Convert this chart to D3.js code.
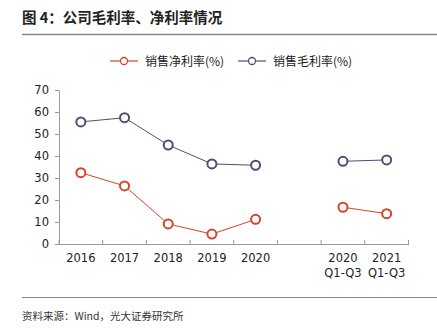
<!DOCTYPE html>
<html>
<head>
<meta charset="utf-8">
<title>公司毛利率、净利率情况</title>
<style>
  body { margin: 0; background: #fff; }
  text { font-family: "Noto Sans CJK SC", "DejaVu Sans", sans-serif; }
</style>
</head>
<body>
<script src="https://d3js.org/d3.v7.min.js"></script>
<script>
var categories = ["2016", "2017", "2018", "2019", "2020", "", "2020\nQ1-Q3", "2021\nQ1-Q3"];
var netMargin = [32.4, 26.4, 9.1, 4.5, 11.2, null, 16.7, 13.8];
var grossMargin = [55.5, 57.4, 45.0, 36.4, 35.8, null, 37.6, 38.2];
var yTicks = [0, 10, 20, 30, 40, 50, 60, 70];

var seriesList = [
  { name: "销售净利率(%)", values: netMargin, color: "#d2462a" },
  { name: "销售毛利率(%)", values: grossMargin, color: "#4f4e7a" }
];

var width = 437, height = 332;

var svg = d3.select("body").append("svg")
    .attr("width", width)
    .attr("height", height);

// title
svg.append("text")
    .attr("x", 22).attr("y", 23)
    .style("font-size", "14.5px")
    .style("font-weight", "bold")
    .style("fill", "#222")
    .text("图 4：公司毛利率、净利率情况");

svg.append("line")
    .attr("x1", 22).attr("x2", 437)
    .attr("y1", 34.5).attr("y2", 34.5)
    .style("stroke", "#888").style("stroke-width", 1.5);

var x = d3.scaleBand()
    .domain(d3.range(categories.length))
    .range([59, 408.5]);

var y = d3.scaleLinear()
    .domain([0, 70])
    .range([244, 90]);

// y axis
var yAxis = svg.append("g")
    .attr("transform", "translate(59,0)")
    .call(d3.axisLeft(y).tickValues(yTicks).tickSize(4).tickPadding(6));
yAxis.select(".domain").style("stroke", "#999");
yAxis.selectAll(".tick line").style("stroke", "#999");
yAxis.selectAll("text").style("font-size", "11.5px").style("fill", "#222")
    .style("font-family", "\"DejaVu Sans\", sans-serif");

// x axis
var xAxis = svg.append("g")
    .attr("transform", "translate(0,244)")
    .call(d3.axisBottom(x).tickSize(0).tickFormat(""));
xAxis.select(".domain").style("stroke", "#999");

var bounds = x.domain().map(function(i) { return x(i); }).concat([x.range()[1]]);
svg.selectAll(".xtick")
    .data(bounds)
    .enter().append("line")
    .attr("x1", function(d) { return d; })
    .attr("x2", function(d) { return d; })
    .attr("y1", 244).attr("y2", 240)
    .style("stroke", "#999");

svg.selectAll(".xlabel")
    .data(categories)
    .enter().append("text")
    .attr("text-anchor", "middle")
    .attr("transform", function(d, i) {
      return "translate(" + (x(i) + x.bandwidth() / 2) + ",262)";
    })
    .style("font-size", "11.5px")
    .style("fill", "#222")
    .style("font-family", "\"DejaVu Sans\", sans-serif")
    .each(function(d) {
      var t = d3.select(this);
      d.split("\n").forEach(function(part, j) {
        t.append("tspan").attr("x", 0).attr("dy", j === 0 ? 0 : 15).text(part);
      });
    });

// lines and markers
var line = d3.line()
    .defined(function(d) { return d != null; })
    .x(function(d, i) { return x(i) + x.bandwidth() / 2; })
    .y(function(d) { return y(d); });

seriesList.forEach(function(s) {
  svg.append("path")
      .datum(s.values)
      .attr("d", line)
      .style("fill", "none")
      .style("stroke", s.color)
      .style("stroke-width", 1);

  svg.selectAll(null)
      .data(s.values.map(function(v, i) { return { v: v, i: i }; })
        .filter(function(d) { return d.v != null; }))
      .enter().append("circle")
      .attr("cx", function(d) { return x(d.i) + x.bandwidth() / 2; })
      .attr("cy", function(d) { return y(d.v); })
      .attr("r", 4.5)
      .style("fill", "#fff")
      .style("stroke", s.color)
      .style("stroke-width", 2);
});

// legend
var legendX = [110, 238];
seriesList.forEach(function(s, k) {
  var g = svg.append("g").attr("transform", "translate(" + legendX[k] + ",61)");
  g.append("line").attr("x1", 0).attr("x2", 28).attr("y1", 0).attr("y2", 0)
      .style("stroke", s.color).style("stroke-width", 1.2);
  g.append("circle").attr("cx", 14).attr("cy", 0).attr("r", 3.5)
      .style("fill", "#fff").style("stroke", s.color).style("stroke-width", 1.3);
  g.append("text").attr("x", 35).attr("y", 4.5)
      .style("font-size", "12px").style("fill", "#222")
      .text(s.name);
});

// source
svg.append("line")
    .attr("x1", 22).attr("x2", 437)
    .attr("y1", 297.5).attr("y2", 297.5)
    .style("stroke", "#888").style("stroke-width", 1);

svg.append("text")
    .attr("x", 22).attr("y", 320)
    .style("font-size", "10.5px")
    .style("fill", "#333")
    .text("资料来源：Wind，光大证券研究所");
</script>
</body>
</html>
